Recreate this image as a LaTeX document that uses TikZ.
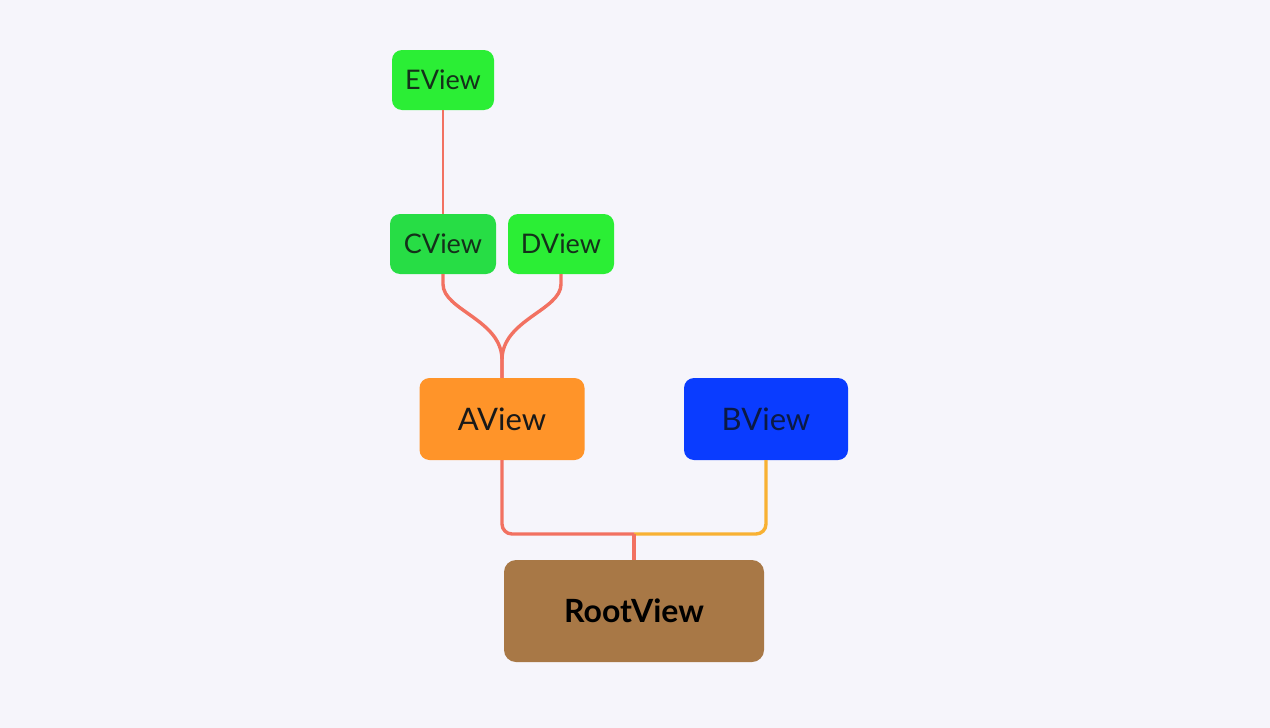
\documentclass[tikz,border=0pt]{standalone}
\usepackage{fontspec}
\setmainfont{Lato}
\usetikzlibrary{calc}
\definecolor{bg}{HTML}{F6F5FB}
\definecolor{gE}{HTML}{2BEE35}
\definecolor{gC}{HTML}{27DD45}
\definecolor{orA}{HTML}{FF9429}
\definecolor{blB}{HTML}{0A3CFF}
\definecolor{brR}{HTML}{A87846}
\definecolor{salmon}{HTML}{F27161}
\definecolor{yel}{HTML}{F8B133}
\definecolor{txtG}{HTML}{14301A}
\definecolor{txtB}{HTML}{0B1A45}
\tikzset{
  box/.style={rounded corners=10pt, inner sep=0pt, font=\fontsize{27}{32}\selectfont},
  small/.style={box, minimum height=60pt, text=txtG},
  big/.style={box, minimum height=82pt, minimum width=165pt, font=\fontsize{31}{36}\selectfont, text=black!90},
  link/.style={draw=salmon, line width=3.4pt},
}
\begin{document}
\begin{tikzpicture}[x=1pt,y=-1pt]
\fill[bg] (0,0) rectangle (1270,728);
\useasboundingbox (0,0) rectangle (1270,728);
\node[small, fill=gE, minimum width=102pt] (E) at (443,80) {EView};
\node[small, fill=gC, minimum width=106pt] (C) at (443,244) {CView};
\node[small, fill=gE, minimum width=106pt] (D) at (561,244) {DView};
\node[big, fill=orA] (A) at (502,419) {AView};
\node[big, fill=blB, minimum width=164pt, text=txtB] (B) at (766,419) {BView};
\node[box, fill=brR, minimum width=260pt, minimum height=102pt, rounded corners=12pt, font=\fontsize{32}{38}\selectfont\bfseries] (R) at (634,611) {RootView};
\coordinate (J) at (634,534);
\draw[draw=salmon, line width=2.2pt] (E.south) -- (C.north);
\draw[link] (C.south) -- ++(0,10) .. controls +(0,26) and +(0,-40) .. ($(A.north)+(0,-18)$) -- (A.north);
\draw[link] (D.south) -- ++(0,10) .. controls +(0,26) and +(0,-40) .. ($(A.north)+(0,-18)$) -- (A.north);
\draw[draw=yel, line width=3.4pt, rounded corners=10pt] (B.south) |- (J);
\draw[link, rounded corners=10pt] (A.south) |- (J);
\draw[link] (J) -- (R.north);
\end{tikzpicture}
\end{document}
